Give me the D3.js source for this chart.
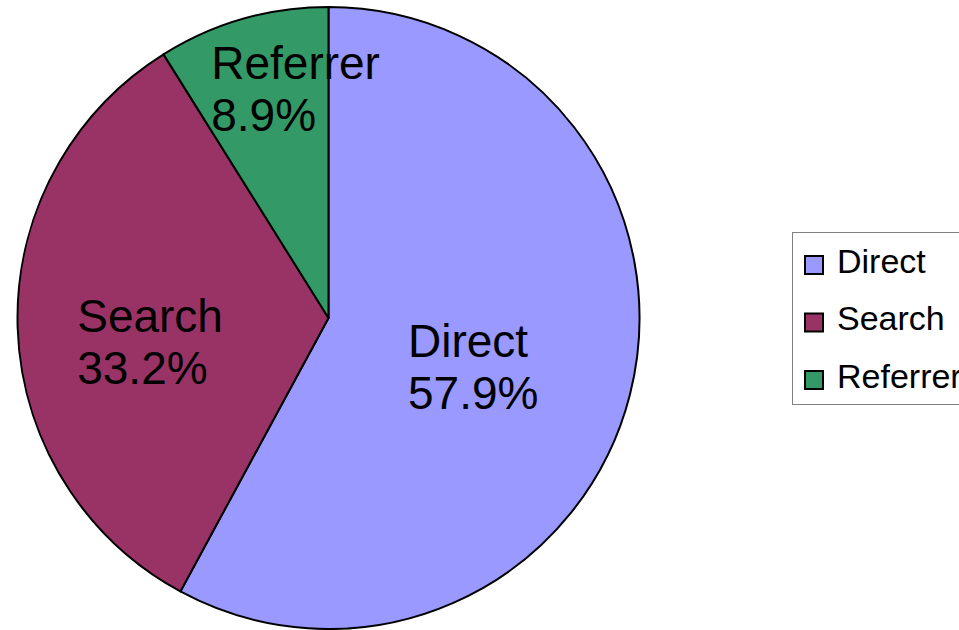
<!DOCTYPE html>
<html>
<head>
<meta charset="utf-8">
<script src="https://cdn.jsdelivr.net/npm/d3@7"></script>
<style>
  body { margin: 0; background: #fff; }
  svg { display: block; font-family: "Liberation Sans", Arial, sans-serif; }
</style>
</head>
<body>
<div id="chart"></div>
<script>
const categories = ['Direct', 'Search', 'Referrer'];
const shares = [57.9, 33.2, 8.9];
const colors = ['#9999ff', '#993366', '#339966'];

const width = 959,
    height = 630,
    cx = 328.5,
    cy = 318,
    radius = 311;

// nudges from the arc centroid to where the label block sits
const labelNudge = [[-6, 10], [-23, 19], [10, -80]];

const data = categories.map((c, i) => ({ name: c, value: shares[i], fill: colors[i] }));

const svg = d3.select('#chart')
    .append('svg')
    .attr('width', width)
    .attr('height', height);

const pie = d3.pie()
    .sort(null)
    .value(d => d.value);

const arc = d3.arc()
    .innerRadius(0)
    .outerRadius(radius);

const labelArc = d3.arc()
    .innerRadius(radius * 0.5)
    .outerRadius(radius * 0.5);

const arcs = pie(data);

const g = svg.append('g')
    .attr('transform', `translate(${cx},${cy})`);

g.selectAll('path')
    .data(arcs)
    .enter()
    .append('path')
    .attr('d', arc)
    .attr('fill', d => d.data.fill)
    .attr('stroke', '#000')
    .attr('stroke-width', 2)
    .attr('stroke-linejoin', 'round');

const labels = g.selectAll('g.label')
    .data(arcs)
    .enter()
    .append('g')
    .attr('class', 'label')
    .attr('transform', (d, i) => {
        const c = labelArc.centroid(d);
        return `translate(${c[0] + labelNudge[i][0]},${c[1] + labelNudge[i][1]})`;
    });

labels.each(function (d) {
    const t = d3.select(this).append('text')
        .attr('font-size', 46)
        .attr('fill', '#000');
    t.append('tspan').attr('y', -9.5).text(d.data.name);
    t.append('tspan').attr('y', 42.5).text(d.data.value.toFixed(1) + '%');
    let w = 0;
    t.selectAll('tspan').each(function () { w = Math.max(w, this.getComputedTextLength()); });
    t.selectAll('tspan').attr('x', -w / 2);
});

// legend
const legend = svg.append('g')
    .attr('transform', 'translate(792,232)');

legend.append('rect')
    .attr('x', 0.5)
    .attr('y', 0.5)
    .attr('width', 200)
    .attr('height', 172)
    .attr('fill', '#fff')
    .attr('stroke', '#808080')
    .attr('stroke-width', 1);

const rowY = d3.scalePoint()
    .domain(categories)
    .range([32.5, 147.5]);

const items = legend.selectAll('g.item')
    .data(data)
    .enter()
    .append('g')
    .attr('class', 'item')
    .attr('transform', d => `translate(0,${rowY(d.name)})`);

items.append('rect')
    .attr('x', 13)
    .attr('y', -8.5)
    .attr('width', 18)
    .attr('height', 18)
    .attr('fill', d => d.fill)
    .attr('stroke', '#000')
    .attr('stroke-width', 2);

items.append('text')
    .attr('x', 45)
    .attr('y', 8)
    .attr('font-size', 34)
    .attr('fill', '#000')
    .text(d => d.name);
</script>
</body>
</html>
